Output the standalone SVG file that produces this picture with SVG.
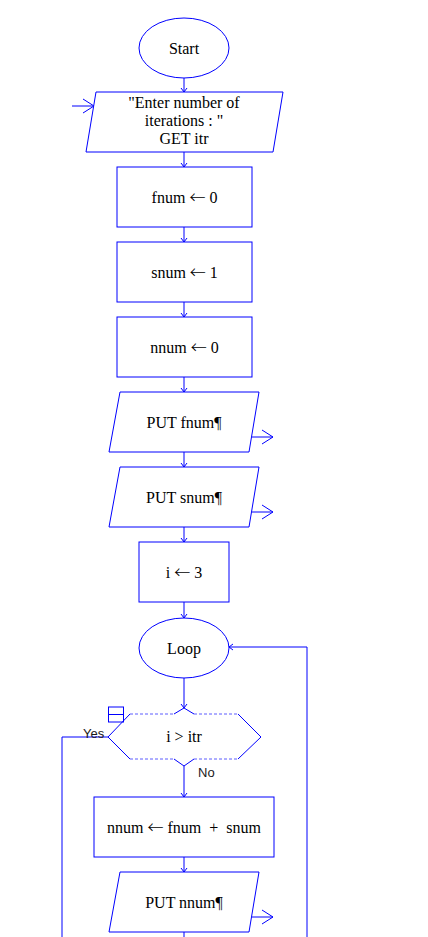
<svg xmlns="http://www.w3.org/2000/svg" width="428" height="937" viewBox="0 0 428 937">
  <defs>
    <style>
      .shape { fill: #ffffff; stroke: #0000ff; stroke-width: 1; }
      .wire { fill: none; stroke: #0000ff; stroke-width: 1; }
      .dash { fill: none; stroke: #5c5cff; stroke-width: 1; stroke-dasharray: 3 2; }
      .lbl { font-family: "Liberation Serif", "Times New Roman", serif; font-size: 16px; fill: #000000; text-anchor: middle; white-space: pre; }
      .arw { font-family: "Noto Sans CJK SC", "DejaVu Sans", sans-serif; font-size: 16px; font-weight: 300; }
      .tag { font-family: "Liberation Sans", Arial, sans-serif; font-size: 13px; fill: #1a1a1a; }
    </style>
    <marker id="tip" viewBox="0 0 10 10" refX="5" refY="5" markerWidth="10" markerHeight="10" markerUnits="userSpaceOnUse" orient="auto">
      <path d="M1,2 L5,5 L1,8" fill="none" stroke="#0000ff" stroke-width="1"/>
    </marker>
    <marker id="big" viewBox="0 0 14 16" refX="12" refY="8" markerWidth="14" markerHeight="16" markerUnits="userSpaceOnUse" orient="auto">
      <path d="M1,1 L12,8 L1,15" fill="none" stroke="#0000ff" stroke-width="1"/>
    </marker>
  </defs>

  <rect x="0" y="0" width="428" height="937" fill="#ffffff"/>

  <!-- flow lines -->
  <g id="connectors">
    <line class="wire" x1="184" y1="78" x2="184" y2="92" marker-end="url(#tip)"/>
    <line class="wire" x1="72" y1="106" x2="94" y2="106" marker-end="url(#big)"/>
    <line class="wire" x1="184" y1="152" x2="184" y2="167" marker-end="url(#tip)"/>
    <line class="wire" x1="184" y1="227" x2="184" y2="242" marker-end="url(#tip)"/>
    <line class="wire" x1="184" y1="302" x2="184" y2="317" marker-end="url(#tip)"/>
    <line class="wire" x1="184" y1="377" x2="184" y2="392" marker-end="url(#tip)"/>
    <line class="wire" x1="251.5" y1="437" x2="273" y2="437" marker-end="url(#big)"/>
    <line class="wire" x1="184" y1="452" x2="184" y2="467" marker-end="url(#tip)"/>
    <line class="wire" x1="251.5" y1="512" x2="273" y2="512" marker-end="url(#big)"/>
    <line class="wire" x1="184" y1="527" x2="184" y2="542" marker-end="url(#tip)"/>
    <line class="wire" x1="184" y1="602" x2="184" y2="618" marker-end="url(#tip)"/>
    <line class="wire" x1="184" y1="678" x2="184" y2="708" marker-end="url(#tip)"/>
    <polyline class="wire" points="307,937 307,647 229,647" marker-end="url(#tip)"/>
    <polyline class="wire" points="108,737 62,737 62,937"/>
    <line class="wire" x1="184" y1="766" x2="184" y2="797" marker-end="url(#tip)"/>
    <line class="wire" x1="184" y1="857" x2="184" y2="872" marker-end="url(#tip)"/>
    <line class="wire" x1="251.5" y1="917" x2="273" y2="917" marker-end="url(#big)"/>
    <line class="wire" x1="184" y1="932" x2="184" y2="937"/>
    <text class="tag" x="83" y="738">Yes</text>
    <text class="tag" x="198" y="777">No</text>
  </g>

  <g id="start">
    <ellipse class="shape" cx="184" cy="48" rx="45" ry="30"/>
    <text class="lbl" x="184" y="54">Start</text>
  </g>

  <g id="input-itr">
    <polygon class="shape" points="96,92 283,92 273,152 86,152"/>
    <text class="lbl" x="184" y="108">"Enter number of</text>
    <text class="lbl" x="184" y="126">iterations : "</text>
    <text class="lbl" x="184" y="144">GET itr</text>
  </g>

  <g id="set-fnum">
    <rect class="shape" x="117" y="167" width="135" height="60"/>
    <text class="lbl" x="184.5" y="203">fnum <tspan class="arw">←</tspan> 0</text>
  </g>

  <g id="set-snum">
    <rect class="shape" x="117" y="242" width="135" height="60"/>
    <text class="lbl" x="184.5" y="278">snum <tspan class="arw">←</tspan> 1</text>
  </g>

  <g id="set-nnum">
    <rect class="shape" x="117" y="317" width="135" height="60"/>
    <text class="lbl" x="184.5" y="353">nnum <tspan class="arw">←</tspan> 0</text>
  </g>

  <g id="put-fnum">
    <polygon class="shape" points="120,392 259,392 249,452 109,452"/>
    <text class="lbl" x="184" y="428">PUT fnum¶</text>
  </g>

  <g id="put-snum">
    <polygon class="shape" points="120,467 259,467 249,527 109,527"/>
    <text class="lbl" x="184" y="503">PUT snum¶</text>
  </g>

  <g id="set-i">
    <rect class="shape" x="139" y="542" width="90" height="60"/>
    <text class="lbl" x="184" y="578">i <tspan class="arw">←</tspan> 3</text>
  </g>

  <g id="loop">
    <ellipse class="shape" cx="184" cy="648" rx="45" ry="30"/>
    <text class="lbl" x="184" y="654">Loop</text>
  </g>

  <g id="test-i">
    <polygon points="130,714 238,714 261,737 238,759 130,759 108,737" fill="#ffffff" stroke="none"/>
    <path class="wire" d="M130,714 L108,737 L130,759 M238,714 L261,737 L238,759"/>
    <path class="dash" d="M130,714 H174 M194,714 H238 M130,759 H174 M194,759 H238"/>
    <path class="wire" d="M174,714 L184,708 L194,714 M174,759 L184,766 L194,759"/>
    <rect class="wire" x="108.5" y="707" width="15" height="15"/>
    <line class="wire" x1="108.5" y1="714.5" x2="123.5" y2="714.5"/>
    <text class="lbl" x="184" y="742">i &gt; itr</text>
  </g>

  <g id="sum">
    <rect class="shape" x="94" y="797" width="180" height="60"/>
    <text class="lbl" x="184" y="833">nnum <tspan class="arw">←</tspan> fnum  +  snum</text>
  </g>

  <g id="put-nnum">
    <polygon class="shape" points="120,872 259,872 249,932 109,932"/>
    <text class="lbl" x="184" y="908">PUT nnum¶</text>
  </g>
</svg>
